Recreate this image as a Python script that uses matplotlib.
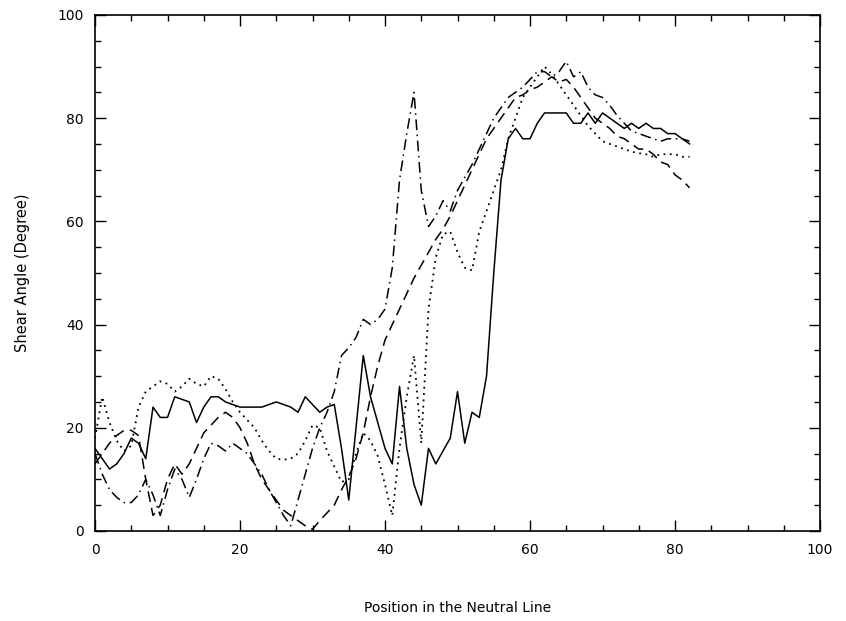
import matplotlib
matplotlib.use('Agg')
import matplotlib.pyplot as plt
from matplotlib.ticker import MultipleLocator

# position along the neutral line (0..82)
pos = list(range(83))

solid = [16, 14, 12, 13, 15, 18, 17, 14, 24, 22,
         22, 26, 25.5, 25, 21, 24, 26, 26, 25, 24.5,
         24, 24, 24, 24, 24.5, 25, 24.5, 24, 23, 26,
         24.5, 23, 24, 24.5, 16, 6, 20, 34, 26, 21,
         16, 13, 28, 16, 9, 5, 16, 13, 15.5, 18,
         27, 17, 23, 22, 30, 50, 68, 76, 78, 76,
         76, 79, 81, 81, 81, 81, 79, 79, 81, 79,
         81, 80, 79, 78, 79, 78, 79, 78, 78, 77,
         77, 76, 75]

dotted = [18, 26, 21, 17.5, 15.5, 16.5, 24, 27, 28, 29,
          28.5, 27, 28, 29.5, 28.5, 28, 30, 29.5, 27.5, 25,
          23, 21.5, 20, 17.5, 15.5, 14, 13.8, 14, 15, 17.5,
          20.5, 20, 15.5, 12.5, 9.5, 10, 15, 19, 17.5, 14.5,
          9, 3, 16, 26, 34, 17, 43, 53, 57.5, 58,
          54, 51, 50.5, 58, 62, 66, 70, 76, 80, 84,
          86, 88, 90, 88.5, 86.5, 84.5, 82.5, 80.5, 78.5, 77,
          75.5, 75, 74.5, 74, 73.5, 73.2, 73, 72.5, 73, 73,
          73, 72.5, 72.5]

dashed = [13, 15, 17, 18.5, 19.5, 19.5, 18.5, 10, 3, 5,
          10, 13, 11, 13, 16, 19, 20.5, 22, 23, 22,
          20, 17, 13, 10, 8, 6, 4, 3, 2, 1,
          0.3, 2, 3.5, 5, 8, 10.5, 14, 19, 26, 32,
          37, 40, 43, 46, 49, 51.5, 54, 56.5, 58.5, 61,
          64, 67, 70, 73, 76, 78, 80, 82, 84, 84.5,
          85.5, 86, 87, 88, 87, 87.5, 86, 84, 82, 80,
          79, 78, 76.5, 76, 75, 74, 74, 73, 71.5, 71,
          69, 68, 66.5]

dashdot = [15, 11, 8, 6.5, 5.5, 5.5, 7, 10, 7, 3,
           8, 12, 10, 6.5, 10, 14, 17, 16.5, 15.5, 17,
           16, 15, 13, 11, 8, 5.5, 3, 1, 6, 11,
           16, 20, 23, 27, 34, 35.5, 37.5, 41, 40, 41,
           43, 51, 68, 77, 85, 66, 59, 61, 64, 62,
           66, 68.5, 71, 74, 77, 80, 82, 84, 85, 86,
           87.5, 89, 89, 88, 89, 91, 88, 89, 86, 84.5,
           84, 82.5, 80.5, 79, 77.5, 77, 76.5, 76, 75.5, 76,
           76, 76, 75.5]

fig = plt.figure(figsize=(8.46, 6.21), dpi=100)
ax = fig.add_axes([0.1123, 0.145, 0.857, 0.831])

ax.plot(pos, solid, color='black', lw=1.1, linestyle='-')
ax.plot(pos, dotted, color='black', lw=1.3, linestyle=(0, (1, 2.5)))
ax.plot(pos, dashed, color='black', lw=1.1, linestyle=(0, (7, 4)))
ax.plot(pos, dashdot, color='black', lw=1.1, linestyle=(0, (7, 3, 1, 3)))

ax.set_xlim(0, 100)
ax.set_ylim(0, 100)
ax.xaxis.set_major_locator(MultipleLocator(20))
ax.xaxis.set_minor_locator(MultipleLocator(5))
ax.yaxis.set_major_locator(MultipleLocator(20))
ax.yaxis.set_minor_locator(MultipleLocator(5))
ax.tick_params(which='both', direction='in', top=True, right=True,
               width=1, labelsize=10)
ax.tick_params(which='major', length=8)
ax.tick_params(which='minor', length=4)
ax.tick_params(axis='x', pad=9)
ax.tick_params(axis='y', pad=8)
for sp in ax.spines.values():
    sp.set_linewidth(1.2)

ax.set_xlabel('Position in the Neutral Line', fontsize=10, labelpad=31)
ax.set_ylabel('Shear Angle (Degree)', fontsize=10.5, labelpad=20)

fig.savefig('out.png', dpi=100)
